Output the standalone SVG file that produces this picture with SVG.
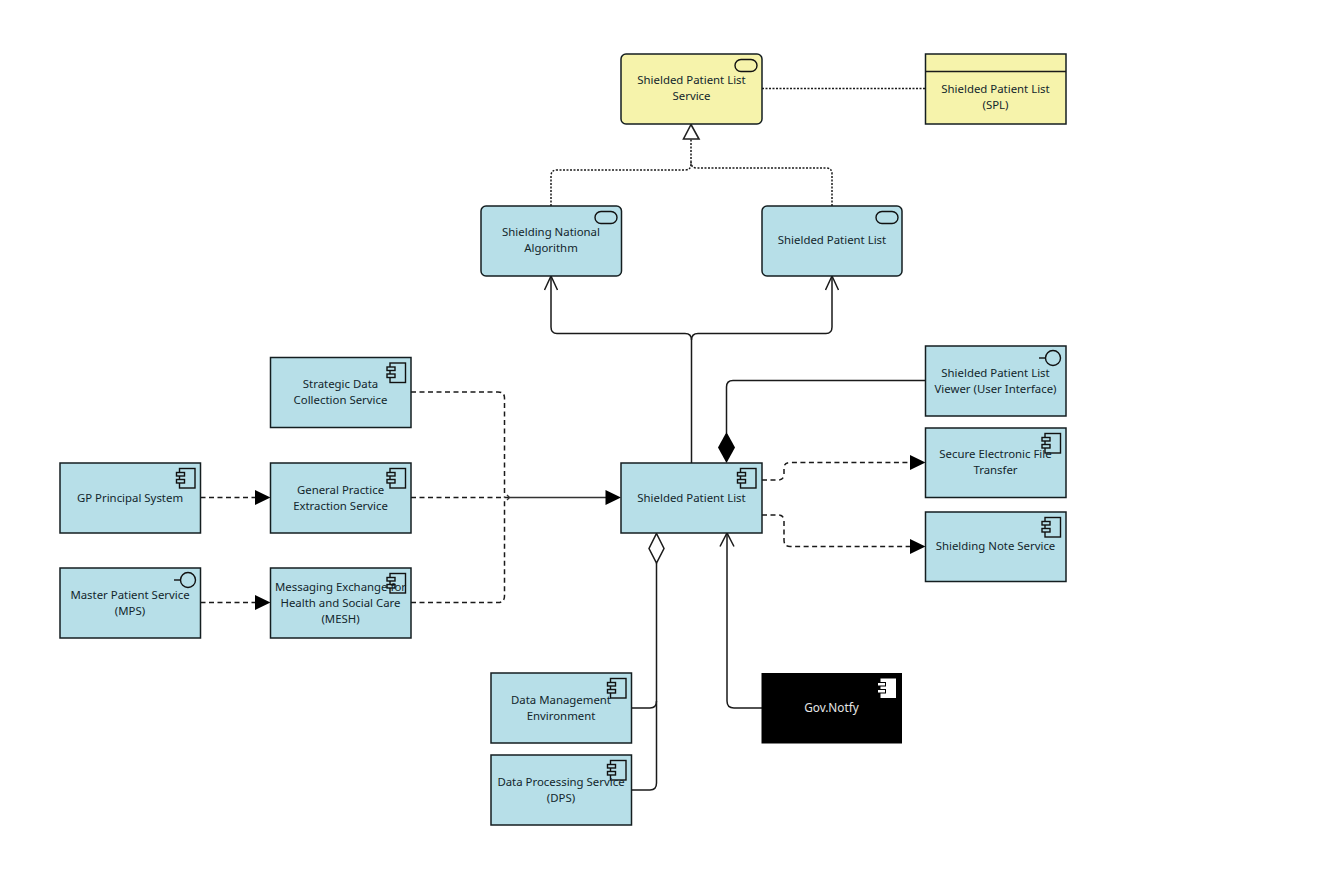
<svg xmlns="http://www.w3.org/2000/svg" width="1330" height="884" viewBox="0 0 1330 884">
<style>
text{font-family:"Noto Sans","Open Sans","DejaVu Sans",sans-serif;font-size:11.4px;fill:#12262c;text-anchor:middle}
.b{fill:#b7dfe8;stroke:#141e20;stroke-width:1.5}
.y{fill:#f6f3ab;stroke:#141e20;stroke-width:1.5}
.w{fill:#000}.w text{fill:#e6e6e6;font-size:11.8px}
.i{fill:none;stroke:#111;stroke-width:1.4}
.is{fill:#b7dfe8;stroke:#111;stroke-width:1.4}
.line{fill:none;stroke:#1a1a1a;stroke-width:1.5}
.dash{stroke-dasharray:5 3.5}
.dot{stroke-dasharray:2 1.5}
</style>
<defs>
<g id="comp"><rect class="i" x="119.5" y="5.5" width="15.5" height="19.5"/><rect class="is" x="116.5" y="9.5" width="8" height="3.5"/><rect class="is" x="116.5" y="16.5" width="8" height="3.5"/></g>
<g id="compw"><rect x="119.5" y="5.5" width="15.5" height="19.5" fill="#fff"/><rect x="116.5" y="9.5" width="8" height="3.5" fill="#fff" stroke="#000"/><rect x="116.5" y="16.5" width="8" height="3.5" fill="#fff" stroke="#000"/></g>
<g id="fn"><rect class="i" x="114" y="5.500" width="22" height="12" rx="6"/></g>
<g id="ifc"><circle class="i" cx="127.500" cy="12" r="7.500"/><path class="i" d="M113.500 12H120"/></g>
</defs>
<g id="connectors">
<path class="line dot" d="M762 88.500H925"/>
<path class="line dot" d="M551 206V176Q551 170 557 170H685Q691 170 691 164V139"/>
<path class="line dot" d="M832 206V174Q832 168 826 168H697Q691 168 691 162"/>
<path d="M691 124.500L683.500 139H699Z" fill="#fff" stroke="#222" stroke-width="1.600"/>
<path class="line" d="M691.500 463V340Q691.500 333.500 685 333.500H557Q551 333.500 551 327V277"/>
<path class="line" d="M691.500 340Q691.500 333.500 698 333.500H826Q832 333.500 832 327V277"/>
<path class="line" d="M544.500 290L551 276L557.500 290M825.500 290L832 276L838.500 290"/>
<path class="line" d="M925 380.500H733Q726.500 380.500 726.500 387V433"/>
<path d="M726.500 432L735 447.500L726.500 463L718 447.500Z" fill="#000"/>
<path class="line dash" d="M411 392H498Q504.500 392 504.500 398V497.500"/>
<path class="line dash" d="M411 602.500H498Q504.500 602.500 504.500 596V497.500"/>
<path class="line dash" d="M411 497.500H510"/>
<path d="M507 495L509.500 497.500L507 500M510 497.500H606" fill="none" stroke="#333" stroke-width="1.400"/>
<path d="M621 497.500L605.500 490V505Z" fill="#000"/>
<path class="line dash" d="M200.500 497.500H256"/><path d="M270.500 497.500L255 490V505Z" fill="#000"/>
<path class="line dash" d="M200.500 602.500H256"/><path d="M270.500 602.500L255 595V610Z" fill="#000"/>
<path class="line dash" d="M762 480H778Q784 480 784 474V468Q784 462.500 790 462.500H911"/><path d="M925.500 462.500L910 455V470Z" fill="#000"/>
<path class="line dash" d="M762 515H778Q784 515 784 521V540Q784 546.500 790 546.500H911"/><path d="M925.500 546.500L910 539V554Z" fill="#000"/>
<path class="line" d="M656.500 563V783Q656.500 790 650 790H632"/>
<path class="line" d="M632 708H650Q656.500 708 656.500 701"/>
<path d="M656.500 533.500L664 548.500L656.500 563L649 548.500Z" fill="#fff" stroke="#1a1a1a" stroke-width="1.500"/>
<path class="line" d="M727 534V701Q727 708 734 708H762"/>
<path class="line" d="M720 546.500L727 533L734 546.500"/>
</g>
<g id="n-service"><rect class="y" x="621" y="54" width="141" height="70" rx="5"/><use href="#fn" x="621" y="54"/><text x="691.500" y="83.500">Shielded Patient List</text><text x="691.500" y="99.500">Service</text></g>
<g id="n-contract"><rect class="y" x="925.500" y="54" width="140.500" height="70"/><path class="line" d="M925.500 71.500H1066"/><text x="995.500" y="92.500">Shielded Patient List</text><text x="995.500" y="108.500">(SPL)</text></g>
<g id="n-algorithm"><rect class="b" x="481" y="206" width="140.500" height="70" rx="5"/><use href="#fn" x="481" y="206"/><text x="551" y="235.500">Shielding National</text><text x="551" y="251.500">Algorithm</text></g>
<g id="n-splfn"><rect class="b" x="762" y="206" width="140" height="70" rx="5"/><use href="#fn" x="762" y="206"/><text x="832" y="243.500">Shielded Patient List</text></g>
<g id="n-strategic"><rect class="b" x="270.500" y="357.500" width="140.500" height="70"/><use href="#comp" x="270.500" y="357.500"/><text x="340.500" y="387.500">Strategic Data</text><text x="340.500" y="403.500">Collection Service</text></g>
<g id="n-gp"><rect class="b" x="60" y="463" width="140.500" height="70"/><use href="#comp" x="60" y="463"/><text x="130" y="501.500">GP Principal System</text></g>
<g id="n-general"><rect class="b" x="270.500" y="463" width="140.500" height="70"/><use href="#comp" x="270.500" y="463"/><text x="340.500" y="493.500">General Practice</text><text x="340.500" y="509.500">Extraction Service</text></g>
<g id="n-mps"><rect class="b" x="60" y="568" width="140.500" height="70"/><use href="#ifc" x="60.500" y="568"/><text x="130" y="598.500">Master Patient Service</text><text x="130" y="614.500">(MPS)</text></g>
<g id="n-mesh"><rect class="b" x="270.500" y="568" width="140.500" height="70"/><use href="#comp" x="270.500" y="568"/><text x="340.500" y="590.500">Messaging Exchange for</text><text x="340.500" y="606.500">Health and Social Care</text><text x="340.500" y="622.500">(MESH)</text></g>
<g id="n-spl"><rect class="b" x="621" y="463" width="141" height="70"/><use href="#comp" x="621" y="463"/><text x="691.500" y="501.500">Shielded Patient List</text></g>
<g id="n-viewer"><rect class="b" x="925.500" y="346" width="140.500" height="70"/><use href="#ifc" x="925.500" y="346"/><text x="995.500" y="376.500">Shielded Patient List</text><text x="995.500" y="392.500">Viewer (User Interface)</text></g>
<g id="n-seft"><rect class="b" x="925.500" y="428" width="140.500" height="69.500"/><use href="#comp" x="925.500" y="428"/><text x="995.500" y="458">Secure Electronic File</text><text x="995.500" y="474">Transfer</text></g>
<g id="n-note"><rect class="b" x="925.500" y="512" width="140.500" height="69.500"/><use href="#comp" x="925.500" y="512"/><text x="995.500" y="550">Shielding Note Service</text></g>
<g id="n-dme"><rect class="b" x="491" y="673" width="140.500" height="70"/><use href="#comp" x="491" y="673"/><text x="561" y="703.500">Data Management</text><text x="561" y="719.500">Environment</text></g>
<g id="n-dps"><rect class="b" x="491" y="755" width="140.500" height="70"/><use href="#comp" x="491" y="755"/><text x="561" y="785.500">Data Processing Service</text><text x="561" y="801.500">(DPS)</text></g>
<g id="n-notify" class="w"><rect x="761.500" y="673" width="140.500" height="70.500"/><use href="#compw" x="761" y="673"/><text x="831.500" y="711.500">Gov.Notfy</text></g>
</svg>
